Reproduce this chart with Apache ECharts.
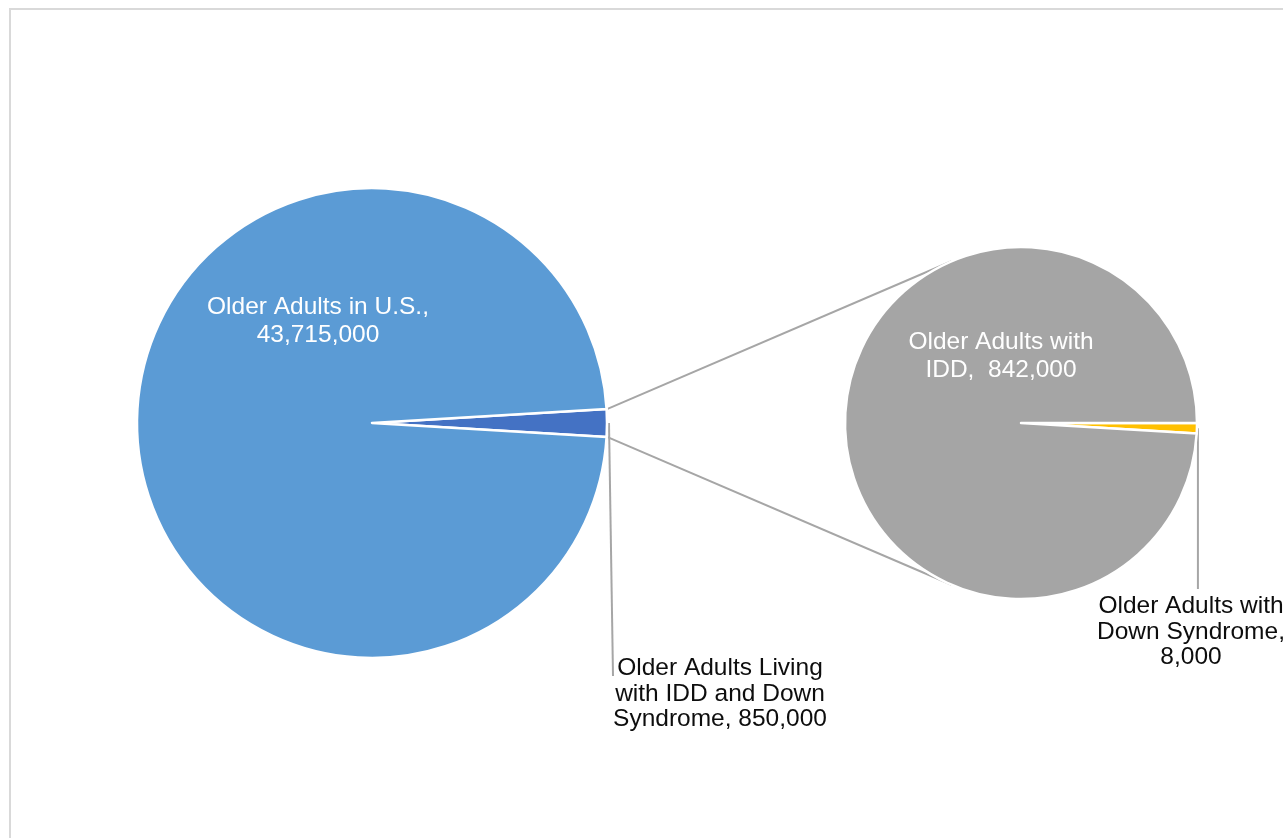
<!DOCTYPE html>
<html>
<head>
<meta charset="utf-8">
<script src="https://cdn.jsdelivr.net/npm/echarts@6/dist/echarts.min.js"></script>
<style>
html,body{margin:0;padding:0;background:#fff;}
#chart{width:1283px;height:838px;}
</style>
</head>
<body>
<div id="chart"></div>
<script>
// ---- data ----
const mainCategories = ['Older Adults Living with IDD and Down Syndrome', 'Older Adults in U.S.'];
const mainValues = [850000, 43715000];
const mainLabels = ['Older Adults Living\nwith IDD and Down\nSyndrome, 850,000', 'Older Adults in U.S.,\n43,715,000'];
const subCategories = ['Older Adults with Down Syndrome', 'Older Adults with IDD'];
const subValues = [8000, 842000];
const subLabels = ['Older Adults with\nDown Syndrome,\n8,000', 'Older Adults with\nIDD,  842,000'];

// ---- layout ----
const C1 = [372, 423], R1 = 235;
const C2 = [1021, 423], R2 = 176;
const FONT = '"Liberation Sans", Arial, sans-serif';
const FS = 24.5;
const LINE = '#A6A6A6';

const mainSum = mainValues.reduce((a, b) => a + b, 0);
const subSum = subValues.reduce((a, b) => a + b, 0);
const halfSlice = 360 * mainValues[0] / mainSum / 2; // degrees
const subSlice = 360 * subValues[0] / subSum;

function pt(c, r, deg) {
  const a = deg * Math.PI / 180;
  return [c[0] + r * Math.cos(a), c[1] - r * Math.sin(a)];
}
// tangent from external point P to circle (C,r); sign +1 upper, -1 lower
function tangent(P, C, r, sign) {
  const dx = P[0] - C[0], dy = -(P[1] - C[1]);
  const d = Math.sqrt(dx * dx + dy * dy);
  const base = Math.atan2(dy, dx) * 180 / Math.PI;
  const off = Math.acos(r / d) * 180 / Math.PI;
  return pt(C, r, base - sign * off);
}

const pUp = pt(C1, R1 + 1, halfSlice);
const pDn = pt(C1, R1 + 1, -halfSlice);
const tUp = tangent(pUp, C2, R2, 1);
const tDn = tangent(pDn, C2, R2, -1);
const leadA = pt(C1, R1 + 2, 0);
const leadB = pt(C2, R2 + 1, -subSlice / 2);

// label positions relative to pie centres
const mainLabelPos = [[C1[0] + R1 + 113, C1[1] + 271], [C1[0] - 54, C1[1] - 102]];
const subLabelPos = [[C2[0] + 170, C2[1] + 209], [C2[0] - 20, C2[1] - 67]];

const chart = echarts.init(document.getElementById('chart'), null, {renderer: 'canvas'});

const option = {
  backgroundColor: '#fff',
  animation: false,
  graphic: [
    {type: 'rect', shape: {x: 10, y: 9, width: 1400, height: 1000}, style: {fill: 'none', stroke: '#D9D9D9', lineWidth: 2}, z: 0},
    {type: 'line', shape: {x1: pUp[0], y1: pUp[1], x2: tUp[0], y2: tUp[1]}, style: {stroke: LINE, lineWidth: 2}, z: 1},
    {type: 'line', shape: {x1: pDn[0], y1: pDn[1], x2: tDn[0], y2: tDn[1]}, style: {stroke: LINE, lineWidth: 2}, z: 1},
    {type: 'line', shape: {x1: leadA[0], y1: leadA[1], x2: leadA[0] + 4, y2: mainLabelPos[0][1] - 18}, style: {stroke: LINE, lineWidth: 2}, z: 1},
    {type: 'line', shape: {x1: leadB[0], y1: leadB[1], x2: leadB[0], y2: subLabelPos[0][1] - 43}, style: {stroke: LINE, lineWidth: 2}, z: 1}
  ],
  series: [
    {
      type: 'pie',
      center: C1,
      radius: R1,
      startAngle: halfSlice,
      clockwise: true,
      silent: true,
      avoidLabelOverlap: false,
      itemStyle: {borderColor: '#fff', borderWidth: 2.5},
      labelLine: {show: false},
      label: {show: true, position: 'inside', fontFamily: FONT, fontSize: FS},
      data: mainValues.map((v, i) => ({
        name: mainCategories[i], value: v,
        itemStyle: {color: i === 0 ? '#4472C4' : '#5B9BD5'},
        label: {
          formatter: mainLabels[i],
          color: i === 0 ? '#0D0D0D' : '#FFFFFF',
          lineHeight: i === 0 ? 25.5 : 28
        }
      })),
      labelLayout: function (p) {
        const q = mainLabelPos[p.dataIndex];
        return {x: q[0], y: q[1], align: 'center', verticalAlign: 'middle'};
      }
    },
    {
      type: 'pie',
      center: C2,
      radius: R2,
      startAngle: 0,
      clockwise: true,
      silent: true,
      avoidLabelOverlap: false,
      itemStyle: {borderColor: '#fff', borderWidth: 2.5},
      labelLine: {show: false},
      label: {show: true, position: 'inside', fontFamily: FONT, fontSize: FS},
      data: subValues.map((v, i) => ({
        name: subCategories[i], value: v,
        itemStyle: {color: i === 0 ? '#FFC000' : '#A5A5A5'},
        label: {
          formatter: subLabels[i],
          color: i === 0 ? '#0D0D0D' : '#FFFFFF',
          lineHeight: i === 0 ? 25.5 : 28
        }
      })),
      labelLayout: function (p) {
        const q = subLabelPos[p.dataIndex];
        return {x: q[0], y: q[1], align: 'center', verticalAlign: 'middle'};
      }
    }
  ]
};
chart.setOption(option);
</script>
</body>
</html>
